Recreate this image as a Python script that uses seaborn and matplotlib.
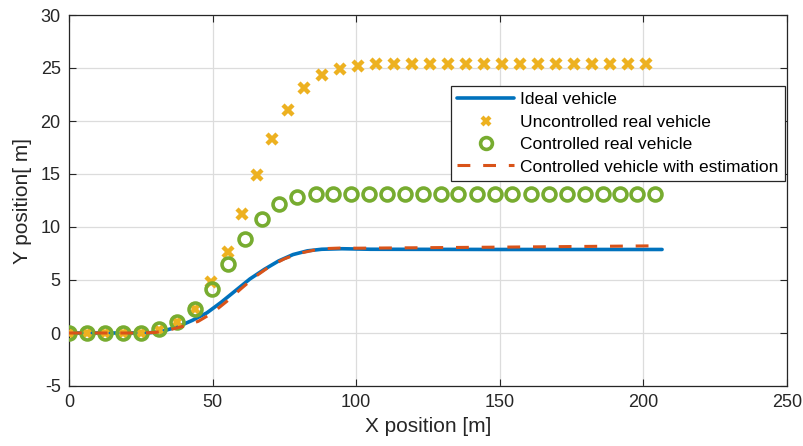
import numpy as np
import pandas as pd
import matplotlib
matplotlib.use("Agg")
import matplotlib.pyplot as plt
import seaborn as sns
from matplotlib.lines import Line2D

# ---------------- data ----------------
ideal_x = [0, 20, 28, 33, 38, 43, 48, 53, 58, 63, 68, 73, 78, 83, 88, 95, 105, 150, 206.5]
ideal_y = [0, 0, 0.02, 0.2, 0.6, 1.2, 1.9, 2.9, 4.0, 5.1, 6.0, 6.8, 7.4, 7.75, 7.9, 7.95, 7.9, 7.88, 7.88]

unc_x = [0, 6.3, 12.5, 18.8, 25.1, 31.3, 37.6, 43.9, 49.4, 55.3, 60.2, 65.4, 70.7, 76.2,
         81.8, 88.1, 94.3, 100.6, 106.9, 113.1, 119.4, 125.7, 132.0, 138.2, 144.5, 150.8,
         157.0, 163.3, 169.6, 175.9, 182.1, 188.4, 194.7, 201.0]
unc_y = [0, 0, 0, 0, 0, 0.3, 1.0, 2.3, 4.85, 7.67, 11.2, 14.9, 18.27, 21.0,
         23.1, 24.35, 24.95, 25.2, 25.35, 25.35, 25.35, 25.35, 25.35, 25.35, 25.35, 25.35,
         25.35, 25.35, 25.35, 25.35, 25.35, 25.35, 25.35, 25.35]

ctl_x = [0, 6.3, 12.5, 18.8, 25.1, 31.3, 37.6, 43.9, 49.8, 55.3, 61.3, 67.2, 73.1, 79.4,
         86.0, 91.9, 98.1, 104.4, 110.7, 117.0, 123.3, 129.4, 135.6, 141.9, 148.2, 154.4,
         160.7, 167.0, 173.3, 179.5, 185.8, 192.0, 197.9, 204.0]
ctl_y = [0, 0, 0, 0, 0, 0.35, 1.0, 2.3, 4.15, 6.5, 8.85, 10.75, 12.15, 12.85,
         13.1, 13.1, 13.1, 13.1, 13.1, 13.1, 13.1, 13.1, 13.1, 13.1, 13.1, 13.1,
         13.1, 13.1, 13.1, 13.1, 13.1, 13.1, 13.1, 13.1]

est_x = [0, 25, 30, 35, 40, 45, 50, 55, 60, 65, 70, 75, 80, 85, 90, 95, 100, 150, 203]
est_y = [0, 0, 0.05, 0.3, 0.65, 1.1, 1.9, 3.0, 4.2, 5.35, 6.3, 7.0, 7.5, 7.8, 7.97, 8.02, 8.0, 8.1, 8.22]

labels = ["Ideal vehicle", "Uncontrolled real vehicle", "Controlled real vehicle",
          "Controlled vehicle with estimation"]
x_ticks = [0, 50, 100, 150, 200, 250]
y_ticks = [-5, 0, 5, 10, 15, 20, 25, 30]

# ---------------- style ----------------
sns.set_theme(style="ticks")
plt.rcParams["font.family"] = ["Liberation Sans", "DejaVu Sans"]
plt.rcParams["axes.unicode_minus"] = False
dark = "#262626"
c_blue, c_orange, c_yellow, c_green = "#0072BD", "#D95319", "#EDB120", "#77AC30"

fig = plt.figure(figsize=(8.04, 4.46), dpi=100)
ax = fig.add_axes([69 / 804, 1 - 386 / 446, 718 / 804, 371 / 446])

sns.lineplot(x=ideal_x, y=ideal_y, ax=ax, color=c_blue, lw=2.6, sort=False,
             estimator=None, label=labels[0], zorder=3)
sns.lineplot(x=unc_x, y=unc_y, ax=ax, color=c_yellow, linestyle="none", marker="x",
             ms=7.5, mew=3.2, mec=c_yellow, sort=False, estimator=None, label=labels[1], zorder=4)
sns.lineplot(x=ctl_x, y=ctl_y, ax=ax, color=c_green, linestyle="none", marker="o",
             ms=9.3, mew=2.6, mfc="none", mec=c_green, sort=False, estimator=None,
             label=labels[2], zorder=5)
sns.lineplot(x=est_x, y=est_y, ax=ax, color=c_orange, lw=2.2, linestyle=(0, (4.2, 4.2)),
             sort=False, estimator=None, label=labels[3], zorder=6)

ax.set_xlim(0, 250)
ax.set_ylim(-5, 30)
ax.set_xticks(x_ticks)
ax.set_yticks(y_ticks)
ax.grid(True, color="#dcdcdc", lw=0.9)
ax.set_axisbelow(True)
ax.tick_params(direction="in", top=True, right=True, length=5, width=0.8,
               colors=dark, labelsize=13, pad=6)
for s in ax.spines.values():
    s.set_color(dark)
    s.set_linewidth(0.9)
ax.set_xlabel("X position [m]", fontsize=15, color=dark, labelpad=4)
ax.set_ylabel("Y position[ m]", fontsize=15, color=dark, labelpad=6)

handles = [
    Line2D([], [], color=c_blue, lw=2.6),
    Line2D([], [], color=c_yellow, linestyle="none", marker="x", ms=6, mew=3),
    Line2D([], [], color=c_green, linestyle="none", marker="o", ms=8.5, mew=2.6, mfc="none"),
    Line2D([], [], color=c_orange, lw=2.2, linestyle=(0, (4.2, 4.2))),
]
leg = ax.legend(handles, labels, loc="upper right", bbox_to_anchor=(0.997, 0.8086),
                borderaxespad=0, fontsize=12.5, frameon=True, fancybox=False,
                edgecolor=dark, framealpha=1, handlelength=3.3, handletextpad=0.35,
                borderpad=0.35, labelspacing=0.42, numpoints=1)
leg.get_frame().set_linewidth(0.9)
for t in leg.get_texts():
    t.set_color("black")

fig.savefig("out.png", dpi=100)
